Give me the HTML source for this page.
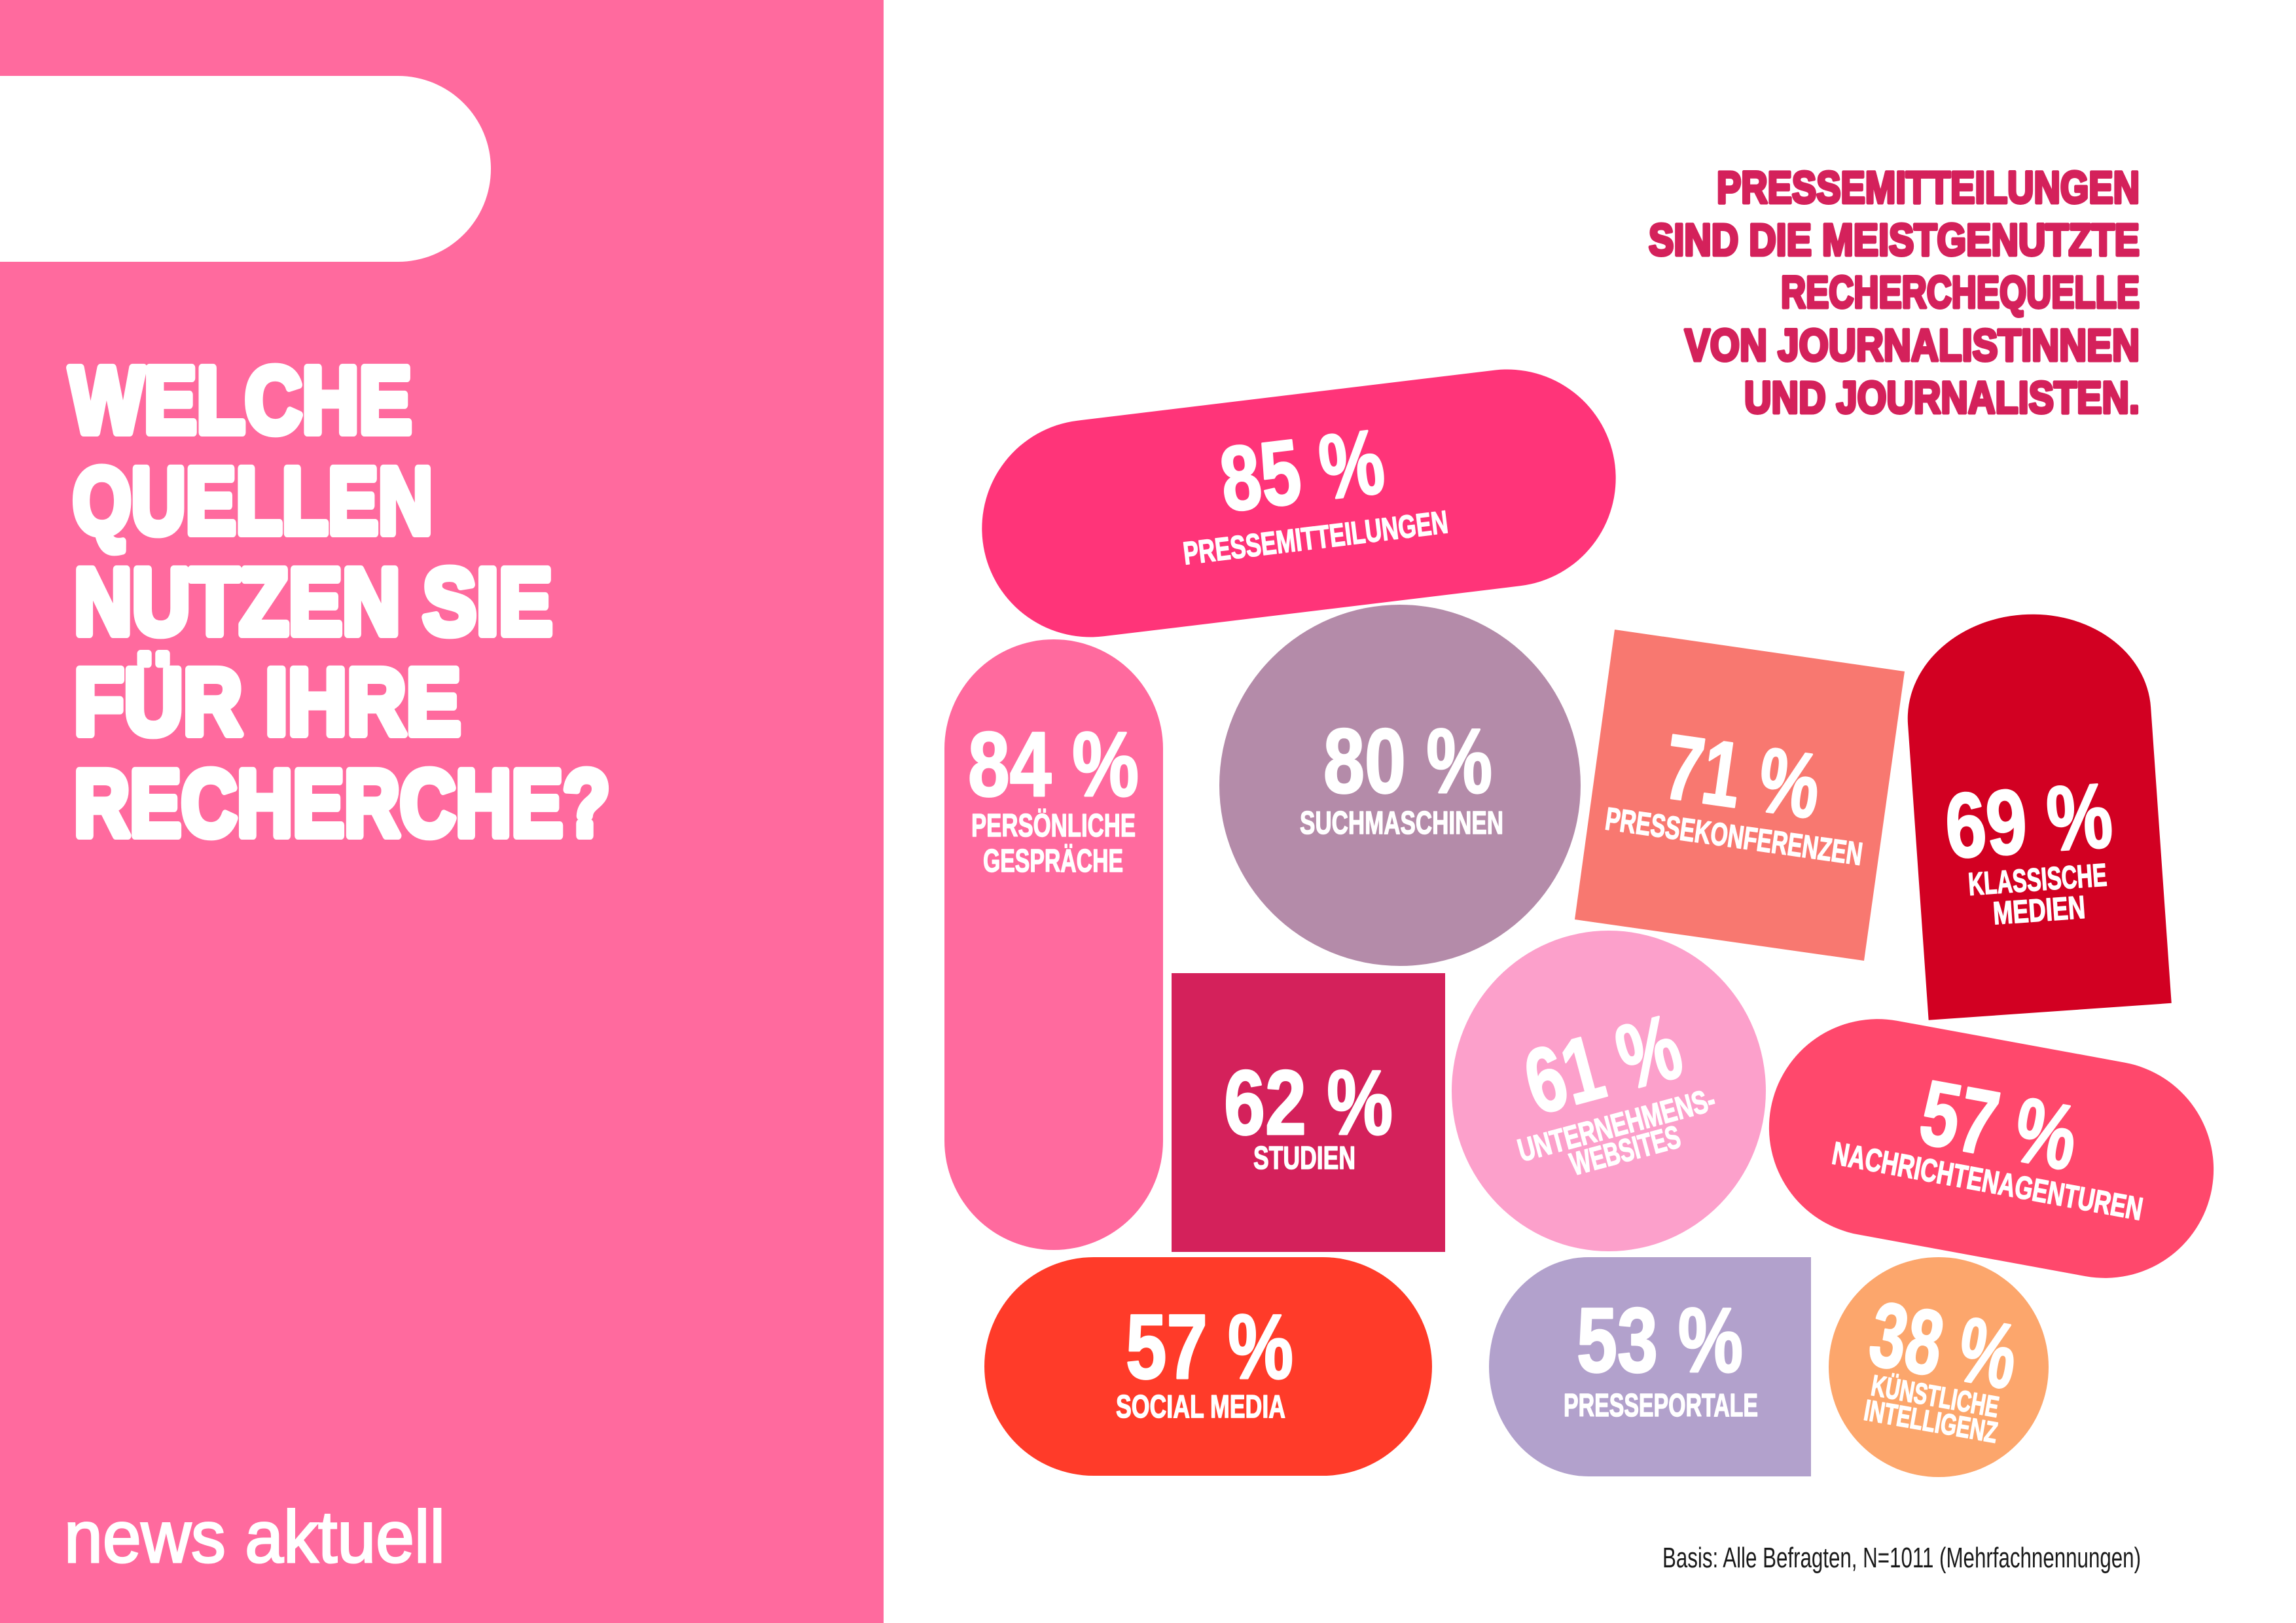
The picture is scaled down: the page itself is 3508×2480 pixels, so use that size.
<!DOCTYPE html>
<html>
<head>
<meta charset="utf-8">
<style>
html,body{margin:0;padding:0;background:#fff;}
svg{display:block;}
</style>
</head>
<body>
<svg width="3508" height="2480" viewBox="0 0 3508 2480" xmlns="http://www.w3.org/2000/svg">
<style>
.t{font-family:"Liberation Sans",sans-serif;font-weight:bold;font-size:144px;fill:#fff;stroke:#fff;stroke-width:12;stroke-linejoin:round;}
.s{font-family:"Liberation Sans",sans-serif;font-weight:bold;font-size:69px;fill:#d4215b;stroke:#d4215b;stroke-width:5;stroke-linejoin:round;}
.p{font-family:"Liberation Sans Narrow","Liberation Sans",sans-serif;font-weight:bold;font-size:140px;fill:#fff;stroke:#fff;stroke-width:3;stroke-linejoin:round;}
.l{font-family:"Liberation Sans Narrow","Liberation Sans",sans-serif;font-weight:bold;font-size:49px;fill:#fff;stroke:#fff;stroke-width:1.5;stroke-linejoin:round;}
.k{font-family:"Liberation Sans Narrow","Liberation Sans",sans-serif;font-weight:bold;font-size:45px;fill:#fff;stroke:#fff;stroke-width:1.5;stroke-linejoin:round;}
</style>

<rect x="0" y="0" width="3508" height="2480" fill="#ffffff"/>

<!-- left panel -->
<rect x="0" y="0" width="1350" height="2480" fill="#ff6a9e"/>
<path d="M0,116 H608 A142,142 0 0 1 608,400 H0 Z" fill="#ffffff"/>

<text class="t" x="106" y="661" textLength="523" lengthAdjust="spacingAndGlyphs">WELCHE</text>
<text class="t" x="111" y="815" textLength="550" lengthAdjust="spacingAndGlyphs">QUELLEN</text>
<text class="t" x="113" y="969" textLength="731" lengthAdjust="spacingAndGlyphs">NUTZEN SIE</text>
<text class="t" x="113" y="1122" textLength="591" lengthAdjust="spacingAndGlyphs">FÜR IHRE</text>
<text class="t" x="113" y="1277" textLength="819" lengthAdjust="spacingAndGlyphs">RECHERCHE?</text>

<text x="98" y="2387" textLength="582" lengthAdjust="spacingAndGlyphs" style="font-family:'Liberation Sans',sans-serif;font-weight:normal;font-size:112px;fill:#fff;stroke:#fff;stroke-width:3;">news aktuell</text>

<!-- subtitle -->
<text class="s" x="2623" y="310" textLength="646" lengthAdjust="spacingAndGlyphs">PRESSEMITTEILUNGEN</text>
<text class="s" x="2519" y="390" textLength="750" lengthAdjust="spacingAndGlyphs">SIND DIE MEISTGENUTZTE</text>
<text class="s" x="2721" y="470" textLength="548" lengthAdjust="spacingAndGlyphs">RECHERCHEQUELLE</text>
<text class="s" x="2574" y="551" textLength="695" lengthAdjust="spacingAndGlyphs">VON JOURNALISTINNEN</text>
<text class="s" x="2665" y="631" textLength="604" lengthAdjust="spacingAndGlyphs">UND JOURNALISTEN.</text>

<!-- 85% pill -->
<g transform="translate(1984.5 769) rotate(-6.9)">
  <rect x="-486.5" y="-166" width="973" height="332" rx="166" ry="166" fill="#ff3479"/>
  <text class="p" x="-114" y="-1" textLength="250" lengthAdjust="spacingAndGlyphs">85 %</text>
  <text class="l" x="-184.5" y="72" textLength="407" lengthAdjust="spacingAndGlyphs">PRESSEMITTEILUNGEN</text>
</g>

<!-- 84% -->
<path d="M1443,1144 A167,167 0 0 1 1777,1144 V1743 A167,167 0 0 1 1443,1743 Z" fill="#ff6a9e"/>
<text class="p" x="1479" y="1216" textLength="261" lengthAdjust="spacingAndGlyphs">84 %</text>
<text class="l" x="1484" y="1278" textLength="251" lengthAdjust="spacingAndGlyphs">PERSÖNLICHE</text>
<text class="l" x="1502" y="1332" textLength="214" lengthAdjust="spacingAndGlyphs">GESPRÄCHE</text>

<!-- 80% -->
<circle cx="2139" cy="1200" r="276" fill="#b48ba9"/>
<text class="p" x="2022" y="1211" textLength="258" lengthAdjust="spacingAndGlyphs">80 %</text>
<text class="l" x="1986" y="1274" textLength="311" lengthAdjust="spacingAndGlyphs">SUCHMASCHINEN</text>

<!-- 71% -->
<polygon points="2467,962 2910,1026 2848,1468 2406,1405" fill="#f87870"/>
<g transform="translate(2657.75 1215.25) rotate(8)">
  <text class="p" x="-118" y="19" textLength="237" lengthAdjust="spacingAndGlyphs">71 %</text>
  <text class="l" x="-197.7" y="80" textLength="396" lengthAdjust="spacingAndGlyphs">PRESSEKONFERENZEN</text>
</g>

<!-- 69% -->
<g transform="translate(3111 1242.5) rotate(-4)">
  <path d="M-186,304 V-149 A186,155 0 0 1 186,-149 V304 Z" fill="#d20022"/>
  <text class="p" x="-139.7" y="59" textLength="255" lengthAdjust="spacingAndGlyphs">69 %</text>
  <text class="l" x="-111" y="118" textLength="212" lengthAdjust="spacingAndGlyphs">KLASSISCHE</text>
  <text class="l" x="-76.3" y="165" textLength="141" lengthAdjust="spacingAndGlyphs">MEDIEN</text>
</g>

<!-- 62% -->
<rect x="1790" y="1487" width="418" height="426" fill="#d4215b"/>
<text class="p" x="1870" y="1733" textLength="258" lengthAdjust="spacingAndGlyphs">62 %</text>
<text class="l" x="1915" y="1786" textLength="156" lengthAdjust="spacingAndGlyphs">STUDIEN</text>

<!-- 61% -->
<g transform="translate(2458 1667)">
  <ellipse cx="0" cy="0" rx="240" ry="245" fill="#fca0cb"/>
  <g transform="rotate(-15)">
    <text class="p" x="-117.7" y="6.5" textLength="239" lengthAdjust="spacingAndGlyphs">61 %</text>
    <text class="l" x="-157" y="70" textLength="310" lengthAdjust="spacingAndGlyphs">UNTERNEHMENS-</text>
    <text class="l" x="-85.3" y="111" textLength="172" lengthAdjust="spacingAndGlyphs">WEBSITES</text>
  </g>
</g>

<!-- 57% Nachrichtenagenturen -->
<g transform="translate(3042.5 1755) rotate(10.4)">
  <rect x="-342.5" y="-166" width="685" height="332" rx="166" ry="166" fill="#ff486c"/>
  <text class="p" x="-114.5" y="11" textLength="239" lengthAdjust="spacingAndGlyphs">57 %</text>
  <text class="l" x="-237.2" y="66.7" textLength="481" lengthAdjust="spacingAndGlyphs">NACHRICHTENAGENTUREN</text>
</g>

<!-- 57% Social media -->
<rect x="1504" y="1921" width="684" height="334" rx="167" ry="167" fill="#ff3b29"/>
<text class="p" x="1720" y="2106" textLength="256" lengthAdjust="spacingAndGlyphs">57 %</text>
<text class="l" x="1705" y="2166" textLength="259" lengthAdjust="spacingAndGlyphs">SOCIAL MEDIA</text>

<!-- 53% -->
<path d="M2427,1921 H2767 V2256 H2427 A152,167.5 0 0 1 2427,1921 Z" fill="#b2a1cc"/>
<text class="p" x="2409" y="2096" textLength="254" lengthAdjust="spacingAndGlyphs">53 %</text>
<text class="l" x="2389" y="2164" textLength="297" lengthAdjust="spacingAndGlyphs">PRESSEPORTALE</text>

<!-- 38% -->
<circle cx="2962" cy="2089" r="168" fill="#fca66c"/>
<g transform="translate(2962 2089) rotate(10)">
  <text class="p" x="-110.2" y="14" textLength="224" lengthAdjust="spacingAndGlyphs">38 %</text>
  <text class="k" x="-96.1" y="60" textLength="197" lengthAdjust="spacingAndGlyphs">KÜNSTLICHE</text>
  <text class="k" x="-100.4" y="99" textLength="206" lengthAdjust="spacingAndGlyphs">INTELLIGENZ</text>
</g>

<!-- footnote -->
<text x="2540" y="2395" textLength="731" lengthAdjust="spacingAndGlyphs" style="font-family:'Liberation Sans',sans-serif;font-size:44px;fill:#1a1a1a;">Basis: Alle Befragten, N=1011 (Mehrfachnennungen)</text>
</svg>
</body>
</html>
